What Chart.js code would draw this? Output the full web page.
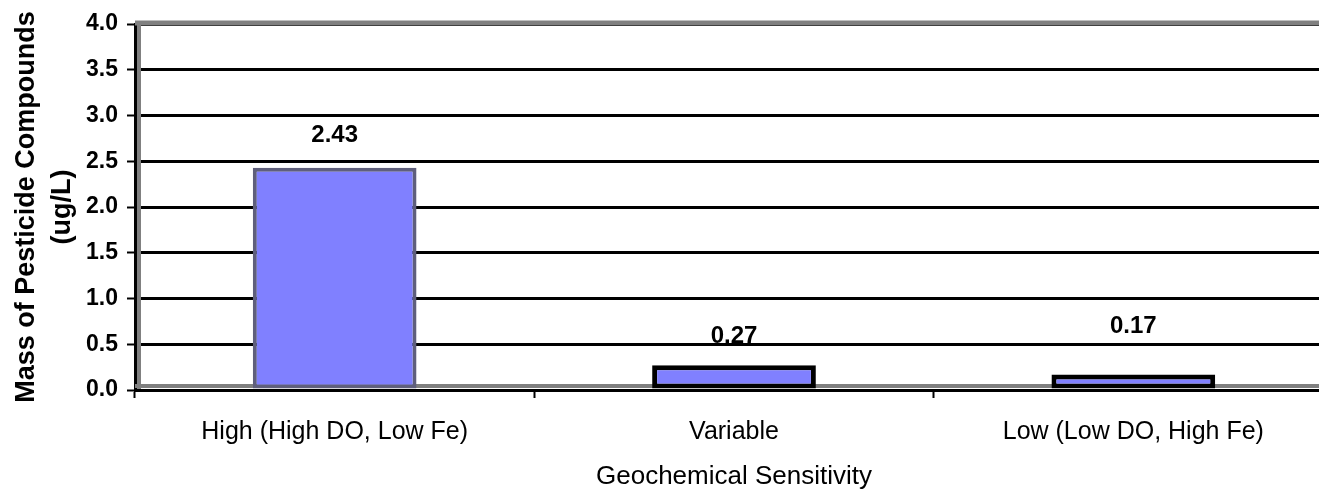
<!DOCTYPE html>
<html>
<head>
<meta charset="utf-8">
<script src="https://cdn.jsdelivr.net/npm/chart.js@4/dist/chart.umd.min.js"></script>
<style>
  body { margin: 0; background: #fff; overflow: hidden; }
  #wrap { width: 1319px; height: 490px; overflow: hidden; }
  #box { width: 1333px; height: 490px; }
</style>
</head>
<body>
<div id="wrap"><div id="box"><canvas id="chart"></canvas></div></div>
<script>
const categories = ['High (High DO, Low Fe)', 'Variable', 'Low (Low DO, High Fe)']
const pesticideMass = [2.43, 0.27, 0.17]
const valueLabels = ['2.43', '0.27', '0.17']
const yTitle = ['Mass of Pesticide Compounds', '(ug/L)']
const xTitle = 'Geochemical Sensitivity'

const FONT = "'Liberation Sans', Arial, sans-serif"

// grey frame of the plot area, drawn under the bars
const plotFrame = {
    id: 'plotFrame',
    beforeDatasetsDraw(chart) {
        const { ctx, chartArea: a } = chart;
        ctx.save();
        ctx.strokeStyle = '#808080';
        ctx.lineWidth = 5;
        ctx.beginPath();
        ctx.moveTo(a.left, a.top - 1);
        ctx.lineTo(a.right, a.top - 1);
        ctx.stroke();
        ctx.lineWidth = 4;
        ctx.beginPath();
        ctx.moveTo(a.left + 4, a.top);
        ctx.lineTo(a.left + 4, a.bottom);
        ctx.moveTo(a.left, a.bottom - 4);
        ctx.lineTo(a.right, a.bottom - 4);
        ctx.stroke();
        ctx.restore();
    }
};

// value labels above each bar
const barValues = {
    id: 'barValues',
    afterDatasetsDraw(chart, args, opts) {
        const { ctx } = chart;
        const meta = chart.getDatasetMeta(0);
        ctx.save();
        ctx.font = `bold 24px ${FONT}`;
        ctx.fillStyle = '#000';
        ctx.textAlign = 'center';
        ctx.textBaseline = 'middle';
        meta.data.forEach((bar, i) => {
            ctx.fillText(valueLabels[i], bar.x, bar.y - opts.offsets[i]);
        });
        ctx.restore();
    }
};

const ctx = document.getElementById('chart').getContext('2d');
new Chart(ctx, {
    type: 'bar',
    data: {
        labels: categories,
        datasets: [{
            data: pesticideMass,
            backgroundColor: '#8080ff',
            borderColor: ['#5f5f7c', '#000', '#000'],
            borderWidth: [4, 5, 5],
            borderSkipped: false,
            categoryPercentage: 1,
            barPercentage: 0.41
        }]
    },
    plugins: [plotFrame, barValues],
    options: {
        responsive: true,
        maintainAspectRatio: false,
        animation: false,
        layout: { padding: { top: 24, right: 0, left: 0, bottom: 0 } },
        plugins: {
            legend: { display: false },
            tooltip: { enabled: false },
            barValues: { offsets: [32, 29, 48] }
        },
        scales: {
            x: {
                offset: true,
                afterFit: s => { s.height = 100 },
                grid: {
                    offset: true,
                    drawOnChartArea: false,
                    drawTicks: true,
                    tickLength: 8,
                    tickColor: '#000',
                    tickWidth: 2
                },
                border: { color: '#000', width: 3, z: 1 },
                ticks: {
                    color: '#000',
                    font: { family: FONT, size: 25 },
                    padding: 19,
                    maxRotation: 0
                },
                title: {
                    display: true,
                    text: xTitle,
                    color: '#000',
                    font: { family: FONT, size: 26, lineHeight: 1 },
                    padding: 0
                }
            },
            y: {
                min: 0,
                max: 4,
                afterFit: s => { s.width = 135 },
                grid: {
                    color: c => c.tick && c.tick.value === 0 ? 'rgba(0,0,0,0)' : '#000',
                    lineWidth: 3,
                    tickLength: 8,
                    tickColor: '#000',
                    tickWidth: 2
                },
                border: { color: '#000', width: 3 },
                ticks: {
                    stepSize: 0.5,
                    color: '#000',
                    padding: 9,
                    font: { family: FONT, size: 23, weight: 'bold' },
                    callback: v => v.toFixed(1)
                },
                title: {
                    display: true,
                    text: yTitle,
                    color: '#000',
                    font: { family: FONT, size: 27, weight: 'bold', lineHeight: 1.33 },
                    padding: { top: 9, bottom: 0 }
                }
            }
        }
    }
});
</script>
</body>
</html>
